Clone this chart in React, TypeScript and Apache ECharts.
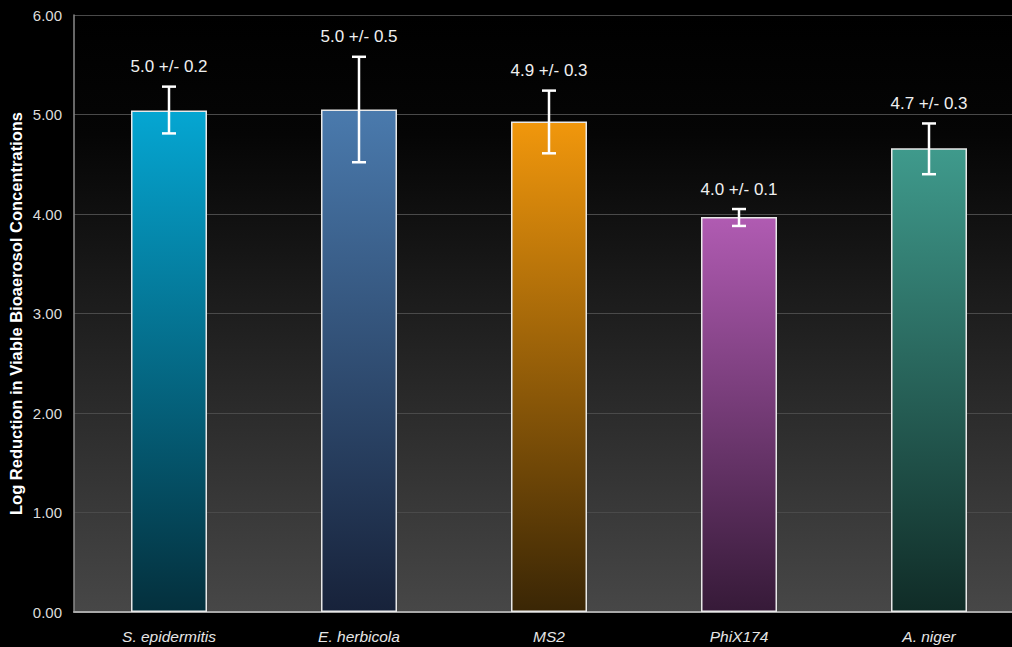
import React, { useEffect, useRef } from "react";
import * as echarts from "echarts";

const categories = ["S. epidermitis", "E. herbicola", "MS2", "PhiX174", "A. niger"];
const meanValues = [5.04, 5.05, 4.93, 3.97, 4.66];
const errLow = [4.81, 4.52, 4.61, 3.88, 4.4];
const errHigh = [5.28, 5.58, 5.24, 4.05, 4.91];
const labelTexts = ["5.0 +/- 0.2", "5.0 +/- 0.5", "4.9 +/- 0.3", "4.0 +/- 0.1", "4.7 +/- 0.3"];
const yTicks = [0, 1, 2, 3, 4, 5, 6];

const barTopColors = ["#05a6d2", "#4a7aad", "#f1970c", "#b05bb2", "#3f9a8c"];
const barBottomColors = ["#04303d", "#17223a", "#3a2605", "#361a38", "#102c27"];

export default function App() {
  const ref = useRef<HTMLDivElement>(null);
  useEffect(() => {
    document.body.style.margin = "0";
    document.body.style.background = "#000";
    const chart = echarts.init(ref.current!, null, { renderer: "svg" });
    const font = "'Liberation Sans', Arial, Helvetica, sans-serif";
    chart.setOption({
      animation: false,
      backgroundColor: "#000",
      grid: {
        left: 74,
        top: 15,
        width: 950,
        height: 597,
        show: true,
        borderWidth: 0,
        outerBoundsMode: "none",
        containLabel: false,
        backgroundColor: new echarts.graphic.LinearGradient(0, 0, 0, 1, [
          { offset: 0, color: "#000000" },
          { offset: 0.2, color: "#050505" },
          { offset: 1, color: "#474747" },
        ]),
      },
      xAxis: {
        type: "category",
        data: categories,
        axisLine: { show: true, lineStyle: { color: "#a8a8a8", width: 2 } },
        axisTick: { show: false },
        axisLabel: {
          color: "#e6e6e6",
          fontSize: 15.5,
          fontStyle: "italic",
          fontFamily: font,
          margin: 16,
        },
      },
      yAxis: {
        type: "value",
        min: 0,
        max: 6,
        interval: 1,
        name: "Log Reduction in Viable Bioaerosol Concentrations",
        nameLocation: "middle",
        nameGap: 50,
        nameMoveOverlap: false,
        nameTextStyle: {
          color: "#ffffff",
          fontSize: 16.5,
          fontWeight: "bold",
          fontFamily: font,
        },
        axisLine: { show: true, lineStyle: { color: "#8a8a8a", width: 1.5 } },
        axisTick: { show: false },
        axisLabel: {
          color: "#dcdcdc",
          fontSize: 15,
          fontFamily: font,
          margin: 12,
          formatter: (v: number) => (yTicks.includes(v) ? v.toFixed(2) : ""),
        },
        splitLine: {
          show: true,
          lineStyle: { color: "#4a4a4a", width: 1 },
        },
      },
      series: [
        {
          type: "bar",
          barWidth: "40%",
          data: meanValues.map((v, i) => ({
            value: v,
            itemStyle: {
              color: new echarts.graphic.LinearGradient(0, 0, 0, 1, [
                { offset: 0, color: barTopColors[i] },
                { offset: 1, color: barBottomColors[i] },
              ]),
              borderColor: "#e8e8e8",
              borderWidth: 1.5,
            },
          })),
          z: 2,
        },
        {
          type: "custom",
          z: 5,
          data: categories.map((_, i) => [i, errLow[i], errHigh[i]]),
          renderItem: (params: any, api: any) => {
            const i = api.value(0);
            const lo = api.coord([i, api.value(1)]);
            const hi = api.coord([i, api.value(2)]);
            const x = lo[0];
            const cap = 7;
            const style = { stroke: "#ffffff", lineWidth: 2.5 };
            return {
              type: "group",
              children: [
                { type: "line", shape: { x1: x, y1: hi[1], x2: x, y2: lo[1] }, style },
                { type: "line", shape: { x1: x - cap, y1: hi[1], x2: x + cap, y2: hi[1] }, style },
                { type: "line", shape: { x1: x - cap, y1: lo[1], x2: x + cap, y2: lo[1] }, style },
                {
                  type: "text",
                  x: x,
                  y: hi[1] - 20,
                  style: {
                    text: labelTexts[params.dataIndex],
                    fill: "#f0f0f0",
                    fontSize: 17,
                    fontFamily: font,
                    align: "center",
                    verticalAlign: "middle",
                  },
                },
              ],
            };
          },
        },
      ],
    });
    return () => chart.dispose();
  }, []);
  return (
    <div style={{ width: 1012, height: 647, overflow: "hidden" }}>
      <div ref={ref} style={{ width: 1040, height: 647 }} />
    </div>
  );
}
